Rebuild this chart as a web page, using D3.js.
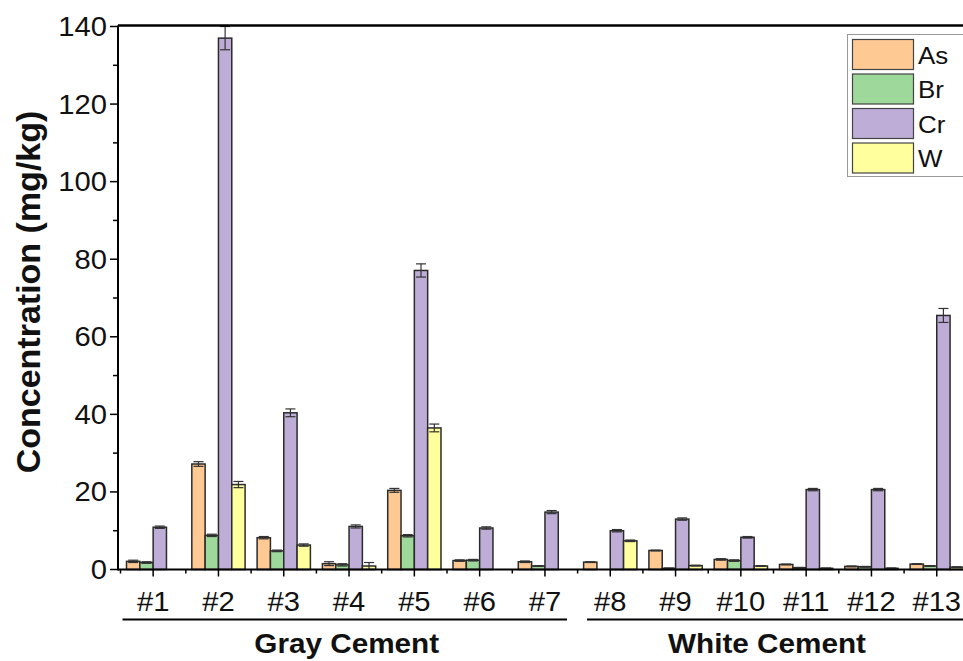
<!DOCTYPE html>
<html>
<head>
<meta charset="utf-8">
<script src="https://cdn.jsdelivr.net/npm/d3@7"></script>
<style>
  html, body { margin: 0; padding: 0; background: #fff; }
  svg { display: block; font-family: "Liberation Sans", Arial, sans-serif; }
</style>
</head>
<body>
<svg id="chart" width="963" height="661"></svg>
<script>
// Sample labels and element series (mg/kg)
const categories = ["#1","#2","#3","#4","#5","#6","#7","#8","#9","#10","#11","#12","#13"];
const seriesNames = ["As","Br","Cr","W"];
const seriesColors = ["#FFC994","#9ED89B","#BEADD6","#FFFF9E"];

const asValues = [2.1, 27.2, 8.2, 1.5, 20.4, 2.3, 2.0, 1.9, 4.9, 2.6, 1.3, 0.8, 1.4];
const brValues = [1.8, 8.8, 4.8, 1.2, 8.7, 2.4, 0.9, 0.0, 0.3, 2.3, 0.45, 0.7, 0.9];
const crValues = [10.9, 137.0, 40.4, 11.1, 77.1, 10.7, 14.8, 10.0, 13.0, 8.3, 20.6, 20.6, 65.5];
const wValues  = [0.0, 21.9, 6.3, 0.9, 36.5, 0.0, 0.0, 7.4, 1.0, 0.9, 0.3, 0.3, 0.6];

const asErrors = [0.3, 0.6, 0.3, 0.5, 0.5, 0.2, 0.2, 0.1, 0.1, 0.2, 0.1, 0.1, 0.1];
const brErrors = [0.2, 0.3, 0.2, 0.3, 0.3, 0.2, 0.1, 0.0, 0.1, 0.2, 0.1, 0.1, 0.1];
const crErrors = [0.3, 3.0, 1.0, 0.4, 1.7, 0.3, 0.4, 0.3, 0.3, 0.2, 0.3, 0.3, 1.8];
const wErrors  = [0.0, 0.8, 0.3, 0.9, 1.0, 0.0, 0.0, 0.2, 0.1, 0.1, 0.1, 0.1, 0.1];

const yTicks = [0, 20, 40, 60, 80, 100, 120, 140];
const groups = [
  { name: "Gray Cement", from: "#1", to: "#7" },
  { name: "White Cement", from: "#8", to: "#13" }
];

const seriesValues = [asValues, brValues, crValues, wValues];
const seriesErrors = [asErrors, brErrors, crErrors, wErrors];

const svg = d3.select("#chart");
const W = 963;
const axisX = 118, axisY = 569.5, topY = 26.5;
const step = 65.3;
const SX = 1.08; // horizontal text stretch

const y = d3.scaleLinear().domain([0, 140]).range([axisY, topY]);
const x = d3.scaleBand().domain(categories)
  .range([120.5, 120.5 + step * categories.length])
  .paddingInner(0.184).paddingOuter(0.092);
const xs = d3.scaleBand().domain(seriesNames).range([0, x.bandwidth()]);

function stretchedText(sel, tx, ty) {
  return sel.attr("transform", `translate(${tx},${ty}) scale(${SX},1)`);
}

// Bars
const table = categories.map((c, i) => ({
  cat: c,
  vals: seriesNames.map((s, k) => ({ s, k, v: seriesValues[k][i], e: seriesErrors[k][i] }))
}));

const g = svg.append("g");
const cat = g.selectAll("g.cat").data(table).join("g")
  .attr("transform", d => `translate(${x(d.cat)},0)`);

cat.selectAll("rect").data(d => d.vals).join("rect")
  .attr("x", d => xs(d.s))
  .attr("width", xs.bandwidth())
  .attr("y", d => y(d.v))
  .attr("height", d => Math.max(0, y(0) - y(d.v)))
  .attr("fill", d => seriesColors[d.k])
  .attr("stroke", "#2b2b2b")
  .attr("stroke-width", 1.5);

// Error bars
const eb = cat.selectAll("g.err").data(d => d.vals.filter(v => v.e > 0)).join("g")
  .attr("stroke", "#333").attr("stroke-width", 1.2).attr("fill", "none");
eb.append("line")
  .attr("x1", d => xs(d.s) + xs.bandwidth() / 2)
  .attr("x2", d => xs(d.s) + xs.bandwidth() / 2)
  .attr("y1", d => y(d.v + d.e)).attr("y2", d => y(Math.max(0, d.v - d.e)));
[1, -1].forEach(sign => {
  eb.append("line")
    .attr("x1", d => xs(d.s) + xs.bandwidth() / 2 - 5)
    .attr("x2", d => xs(d.s) + xs.bandwidth() / 2 + 5)
    .attr("y1", d => y(Math.max(0, d.v + sign * d.e)))
    .attr("y2", d => y(Math.max(0, d.v + sign * d.e)));
});

// Y axis
const yAxis = svg.append("g");
yAxis.append("line").attr("x1", axisX).attr("x2", axisX).attr("y1", topY - 1).attr("y2", axisY + 1)
  .attr("stroke", "#000").attr("stroke-width", 2);
d3.range(0, 141, 10).forEach(v => {
  const major = v % 20 === 0;
  yAxis.append("line").attr("x1", axisX - (major ? 8 : 5)).attr("x2", axisX)
    .attr("y1", y(v)).attr("y2", y(v)).attr("stroke", "#000").attr("stroke-width", 1.5);
});
yTicks.forEach(v => {
  stretchedText(yAxis.append("text"), axisX - 11, y(v) + 9.5)
    .attr("text-anchor", "end").attr("font-size", 27).attr("fill", "#111").text(v);
});
svg.append("text")
  .attr("transform", `translate(40,292) rotate(-90)`)
  .attr("text-anchor", "middle").attr("font-size", 34).attr("font-weight", "bold")
  .attr("fill", "#111").text("Concentration (mg/kg)");

// X axis and top frame
svg.append("line").attr("x1", axisX).attr("x2", W).attr("y1", axisY).attr("y2", axisY)
  .attr("stroke", "#000").attr("stroke-width", 2);
svg.append("line").attr("x1", axisX).attr("x2", W).attr("y1", topY - 1).attr("y2", topY - 1)
  .attr("stroke", "#000").attr("stroke-width", 2.5);
categories.forEach((c, i) => {
  const cx = x(c) + x.bandwidth() / 2;
  svg.append("line").attr("x1", cx).attr("x2", cx).attr("y1", axisY).attr("y2", axisY + 7)
    .attr("stroke", "#000").attr("stroke-width", 1.5);
  const mx = cx - step / 2;
  svg.append("line").attr("x1", mx).attr("x2", mx).attr("y1", axisY).attr("y2", axisY + 4)
    .attr("stroke", "#000").attr("stroke-width", 1.5);
  stretchedText(svg.append("text"), cx, 611)
    .attr("text-anchor", "middle").attr("font-size", 27).attr("fill", "#111").text(c);
});
{
  const last = categories[categories.length - 1];
  const mx = x(last) + x.bandwidth() / 2 + step / 2;
  svg.append("line").attr("x1", mx).attr("x2", mx).attr("y1", axisY).attr("y2", axisY + 4)
    .attr("stroke", "#000").attr("stroke-width", 1.5);
}

// Group brackets
const groupBounds = [[122.5, 567], [587, W]];
groups.forEach((gr, i) => {
  const [x1, x2] = groupBounds[i];
  svg.append("line").attr("x1", x1).attr("x2", x2).attr("y1", 619.5).attr("y2", 619.5)
    .attr("stroke", "#000").attr("stroke-width", 2);
  stretchedText(svg.append("text"), (x1 + x2) / 2 + (i === 1 ? -8 : 2), 653)
    .attr("text-anchor", "middle").attr("font-size", 27.5).attr("font-weight", "bold")
    .attr("fill", "#111").text(gr.name);
});

// Legend
const lg = svg.append("g");
lg.append("rect").attr("x", 847.5).attr("y", 34.5).attr("width", 125).attr("height", 142)
  .attr("fill", "#fff").attr("stroke", "#999").attr("stroke-width", 1);
seriesNames.forEach((s, k) => {
  const ty = 39.5 + k * 34.5;
  lg.append("rect").attr("x", 852.5).attr("y", ty).attr("width", 61).attr("height", 30)
    .attr("fill", seriesColors[k]).attr("stroke", "#444").attr("stroke-width", 1.2);
  stretchedText(lg.append("text"), 918, ty + 24)
    .attr("font-size", 24).attr("fill", "#111").text(s);
});
</script>
</body>
</html>
